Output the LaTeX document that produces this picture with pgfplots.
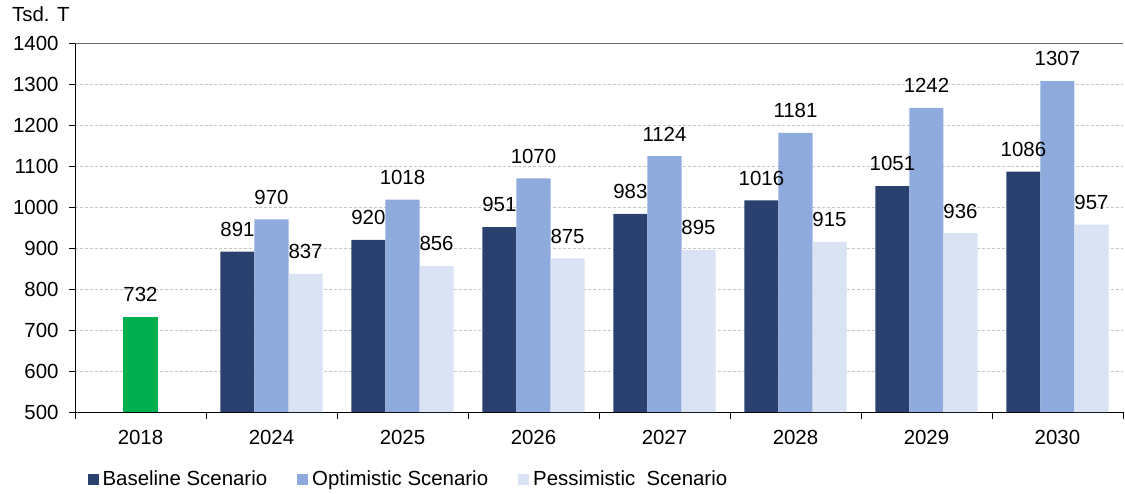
\documentclass[border=0pt]{standalone}
\usepackage{fontspec}
\setmainfont{Liberation Sans}
\usepackage{pgfplots}
\pgfplotsset{compat=1.18}
\usetikzlibrary{calc}
\definecolor{cBase}{HTML}{2A4170}
\definecolor{cOpt}{HTML}{8FAADC}
\definecolor{cPes}{HTML}{DAE3F3}
\definecolor{cGreen}{HTML}{00B050}
\newcommand{\ff}{\fontsize{20.5}{24}\selectfont}
\begin{document}
\ff
\begin{tikzpicture}
\begin{axis}[
  name=ax,
  scale only axis, width=1048bp, height=369bp,
  xmin=-0.5, xmax=7.5, ymin=500, ymax=1400,
  ytick={500,600,...,1400},
  xtick={0,...,7},
  xticklabels={2018,2024,2025,2026,2027,2028,2029,2030},
  minor xtick={-0.5,0.5,...,7.5},
  major x tick style={draw=none},
  minor x tick style={black, thin},
  major y tick style={black, thin},
  tick align=outside,
  major tick length=6bp, minor tick length=7bp,
  axis x line*=bottom, axis y line*=left,
  axis line style={black, thin, -},
  ymajorgrids, major grid style={densely dashed, gray!45},
  tick label style={font=\ff},
  xticklabel style={yshift=-5bp},
  yticklabel style={xshift=-3.5bp},
  /pgf/number format/.cd, 1000 sep={}, assume math mode=true,
  /pgfplots/.cd,
  ybar, bar width=0.26,
  nodes near coords,
  every node near coord/.append style={font=\ff, black, yshift=8bp},
  legend columns=3,
  legend style={draw=none, fill=none, font=\ff, at={(0.009,-0.184)}, anchor=west,
    /tikz/every even column/.append style={column sep=28bp}},
  legend image code/.code={\fill[#1] (0bp,-5.5bp) rectangle (11bp,6bp);},
]
\addplot[fill=cGreen, draw=none, bar shift=0, bar width=0.27, forget plot] coordinates {(0,732)};
\addplot[fill=cBase, draw=none, bar shift=-0.26] coordinates {(1,891) (2,920) (3,951) (4,983) (5,1016) (6,1051) (7,1086)};
\addplot[fill=cOpt, draw=none, bar shift=0] coordinates {(1,970) (2,1018) (3,1070) (4,1124) (5,1181) (6,1242) (7,1307)};
\addplot[fill=cPes, draw=none, bar shift=0.26] coordinates {(1,837) (2,856) (3,875) (4,895) (5,915) (6,936) (7,957)};
\legend{\hspace{2bp}Baseline Scenario, \hspace{2bp}Optimistic Scenario, \hspace{2bp}Pessimistic\ \ Scenario}
\draw[gray!80!black, thin] (axis cs:-0.5,1400) -- (axis cs:7.5,1400);
\end{axis}
\node[anchor=west, inner sep=0pt, font=\ff] at ($(ax.north west)+(-63bp,29bp)$) {Tsd. T};
\pgfresetboundingbox
\path ($(ax.south west)+(-75bp,-82bp)$) rectangle ++(1125bp,494bp);
\end{tikzpicture}
\end{document}
